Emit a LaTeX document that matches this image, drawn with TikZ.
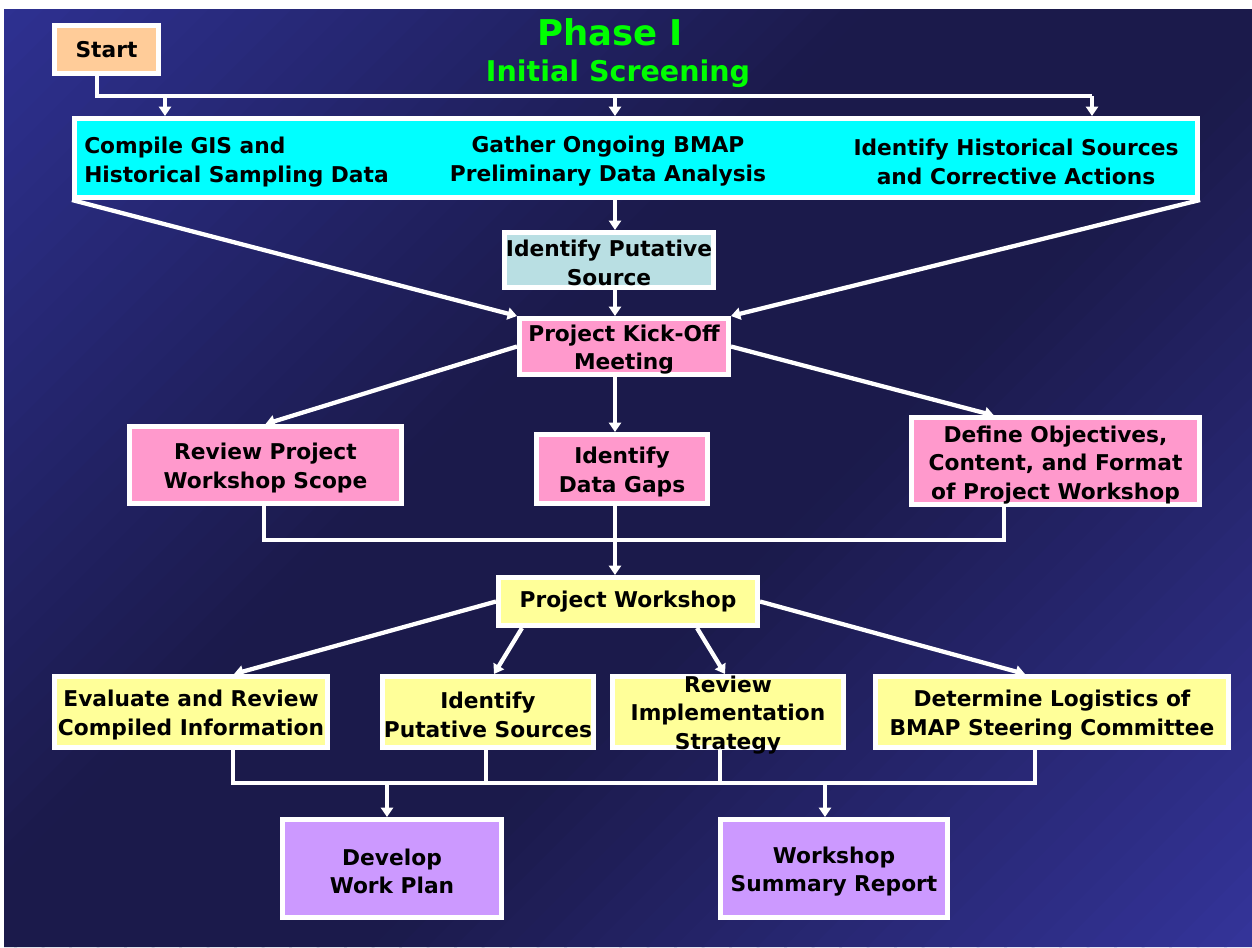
\documentclass[tikz,border=0pt]{standalone}
\usepackage{fontspec}
\setmainfont{DejaVu Sans}
\usetikzlibrary{arrows.meta}
\definecolor{bgtl}{HTML}{2E3192}
\definecolor{bgmid}{HTML}{1B1A4B}
\definecolor{bgbr}{HTML}{34349A}
\definecolor{cpeach}{HTML}{FFCC99}
\definecolor{ccyan}{HTML}{00FFFF}
\definecolor{cpale}{HTML}{B9DFE3}
\definecolor{cpink}{HTML}{FF99CC}
\definecolor{cyel}{HTML}{FFFF99}
\definecolor{clav}{HTML}{CC99FF}
\definecolor{cgreen}{HTML}{00FF00}
\newcommand\boxfont{\fontsize{16.3}{21.5}\selectfont\bfseries}
\newcommand\tp{\rule{0pt}{16.8pt}}
\tikzset{
  box/.style={draw=white, line width=3.75pt, inner sep=0pt, align=center, font=\boxfont, text=black},
  txt/.style={inner sep=0pt, align=center, font=\boxfont, text=black},
  ln/.style={draw=white, line width=3.2pt, line join=miter},
  arr/.style={ln, -{Triangle[width=9pt,length=7pt]}},
  ttl/.style={inner sep=0pt, text=cgreen, font=\bfseries}
}
\begin{document}
\begin{tikzpicture}[x=0.75pt,y=-0.75pt]
\useasboundingbox (0,0) rectangle (1252,947);
\fill[white] (0,0) rectangle (1252,947);
% diagonal background gradient drawn as bands
\begin{scope}
\clip (4,9) rectangle (1252,947);
\foreach \i in {0,...,79}{
  \pgfmathsetmacro\ua{\i*27.5-1.5}
  \pgfmathsetmacro\ub{(\i+1)*27.5+1.5}
  \pgfmathsetmacro\tt{(\i+0.5)/80}
  \ifdim\tt pt<0.4pt
    \pgfmathsetmacro\pp{100*\tt/0.4}
    \colorlet{bandc}{bgmid!\pp!bgtl}
  \else
    \ifdim\tt pt<0.6pt
      \colorlet{bandc}{bgmid}
    \else
      \pgfmathsetmacro\pp{100*(\tt-0.6)/0.4}
      \colorlet{bandc}{bgbr!\pp!bgmid}
    \fi
  \fi
  \fill[bandc] (\ua,0) -- (\ub,0) -- (\ub-947,947) -- (\ua-947,947) -- cycle;
}
\end{scope}

% title
\node[ttl, font=\fontsize{26.6}{30}\selectfont\bfseries] (title1) at (610,32) {Phase I};
\node[ttl, font=\fontsize{21.4}{26}\selectfont\bfseries] (title2) at (618,74) {Initial Screening};

% nodes
\node[box, fill=cpeach, minimum width=78pt, minimum height=36pt] (start) at (106.5,49.5) {Start};
\node[box, fill=ccyan, minimum width=842.25pt, minimum height=59.25pt] (cyan) at (636,158) {};
\node[txt, align=left, anchor=west] (t1) at (84,162) {Compile GIS and\\Historical Sampling Data};
\node[txt] (t2) at (608,161) {Gather Ongoing BMAP\\Preliminary Data Analysis};
\node[txt] (t3) at (1016,162) {Identify Historical Sources\\and Corrective Actions};
\node[box, fill=cpale, minimum width=156.75pt, minimum height=41.25pt] (put) at (609,260) {\tp Identify Putative\\Source};
\node[box, fill=cpink, minimum width=156.75pt, minimum height=42pt] (kick) at (624,346.5) {\tp Project Kick-Off\\Meeting};
\node[box, fill=cpink, minimum width=204pt, minimum height=57.75pt] (scope) at (265.5,465) {\tp Review Project\\Workshop Scope};
\node[box, fill=cpink, minimum width=128.25pt, minimum height=51.75pt] (gaps) at (622,469) {\tp Identify\\Data Gaps};
\node[box, fill=cpink, minimum width=216pt, minimum height=63.75pt] (def) at (1055.5,461) {\rule{0pt}{18pt}Define Objectives,\\Content, and Format\\of Project Workshop};
\node[box, fill=cyel, minimum width=194.25pt, minimum height=36pt] (ws) at (628,601.5) {Project Workshop};
\node[box, fill=cyel, minimum width=204.75pt, minimum height=53.25pt] (eval) at (191,712) {\tp Evaluate and Review\\Compiled Information};
\node[box, fill=cyel, minimum width=158.25pt, minimum height=53.25pt] (idps) at (488,712) {\tp Identify\\Putative Sources};
\node[box, fill=cyel, minimum width=173.25pt, minimum height=53.25pt] (ris) at (728,712) {};
\node[box, fill=cyel, minimum width=264.75pt, minimum height=53.25pt] (det) at (1052,712) {\tp Determine Logistics of\\BMAP Steering Committee};
\node[box, fill=clav, minimum width=164.25pt, minimum height=73.5pt] (dev) at (392,868.5) {\tp Develop\\Work Plan};
\node[box, fill=clav, minimum width=170.25pt, minimum height=73.5pt] (sum) at (834,868.5) {\tp Workshop\\Summary Report};

% helper coordinates
\coordinate (sp) at (615,0);
\coordinate (s0) at (97,96);
\coordinate (s1) at (165,96);
\coordinate (s2) at (615,96);
\coordinate (s3) at (1092,96);
\coordinate (d0) at (994,0);
\coordinate (m1) at (264,540);
\coordinate (m2) at (1004,540);
\coordinate (e0) at (234,0);
\coordinate (w1) at (522,0);
\coordinate (i0) at (494,0);
\coordinate (w2) at (697,0);
\coordinate (r0) at (725,0);
\coordinate (dt0) at (1025,0);
\coordinate (b1) at (233,783);
\coordinate (b2) at (486,783);
\coordinate (b3) at (720,783);
\coordinate (b4) at (1035,783);
\coordinate (b5) at (387,783);
\coordinate (b6) at (825,783);

% connectors
\draw[ln] (start.south -| s0) -- (s0) -- (s3);
\draw[arr] (s1) -- (s1 |- cyan.north);
\draw[arr] (s2) -- (s2 |- cyan.north);
\draw[arr] (s3) -- (s3 |- cyan.north);
\draw[arr] (cyan.south -| sp) -- (put.north -| sp);
\draw[arr] (put.south -| sp) -- (kick.north -| sp);
\draw[arr] (cyan.south west) -- (kick.north west);
\draw[arr] (cyan.south east) -- (kick.north east);
\draw[arr] (kick.west) -- (scope.north);
\draw[arr] (kick.east) -- (d0 |- def.north);
\draw[arr] (kick.south -| sp) -- (gaps.north -| sp);
\draw[ln] (scope.south -| m1) -- (m1) -- (m2) -- (m2 |- def.south);
\draw[arr] (gaps.south -| sp) -- (ws.north -| sp);
\draw[arr] (ws.west) -- (e0 |- eval.north);
\draw[arr] (w1 |- ws.south) -- (i0 |- idps.north);
\draw[arr] (w2 |- ws.south) -- (r0 |- ris.north);
\draw[arr] (ws.east) -- (dt0 |- det.north);
\draw[ln] (eval.south -| b1) -- (b1) -- (b4) -- (b4 |- det.south);
\draw[ln] (idps.south -| b2) -- (b2);
\draw[ln] (ris.south -| b3) -- (b3);
\draw[arr] (b5) -- (b5 |- dev.north);
\draw[arr] (b6) -- (b6 |- sum.north);
\node[txt] (rist) at (728,715) {Review\\Implementation\\Strategy};
\end{tikzpicture}
\end{document}
